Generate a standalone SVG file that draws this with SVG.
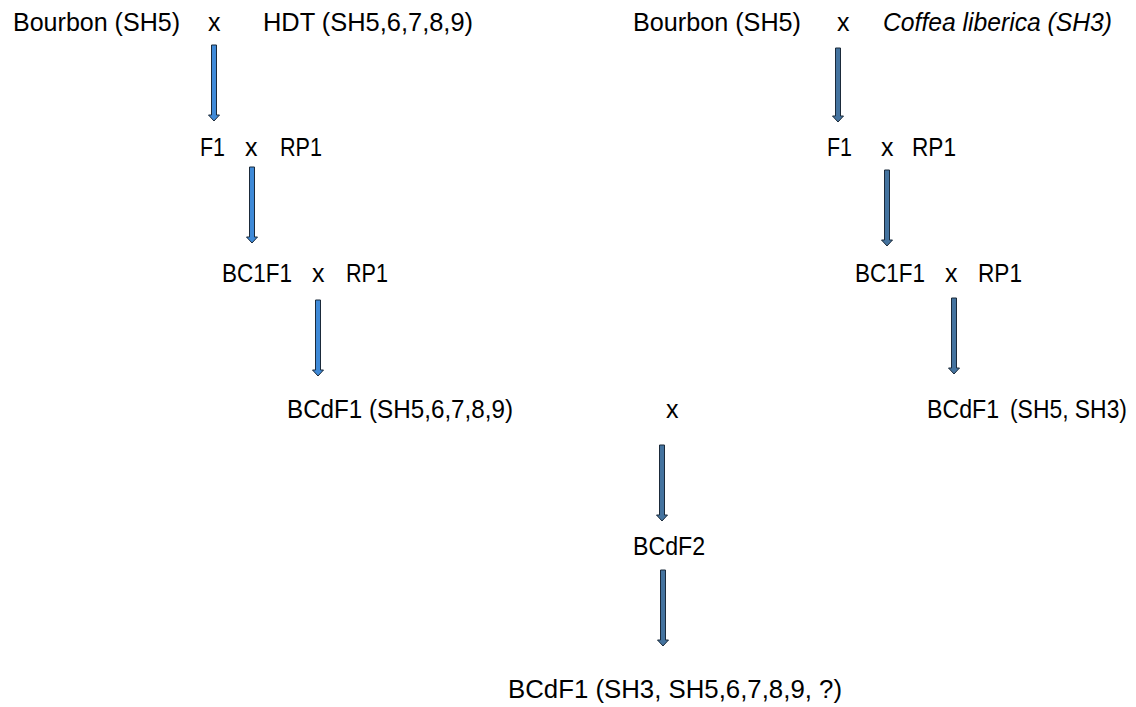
<svg xmlns="http://www.w3.org/2000/svg" width="1136" height="707" viewBox="0 0 1136 707">
<style>
text{font-family:"Liberation Sans",Arial,sans-serif;font-size:25px;fill:#000}
.it{font-style:italic}
.a1{fill:#3f8ad8;stroke:#1b2a3a;stroke-width:1}
.a2{fill:#44739f;stroke:#1b2a3a;stroke-width:1}
</style>
<rect width="1136" height="707" fill="#fff"/>
<g id="n-bourbon-l"><text x="13" y="31" textLength="167" lengthAdjust="spacingAndGlyphs">Bourbon (SH5)</text></g>
<g id="n-x1-l"><text x="208" y="31">x</text></g>
<g id="n-hdt"><text x="263" y="31" textLength="210" lengthAdjust="spacingAndGlyphs">HDT (SH5,6,7,8,9)</text></g>
<g id="n-bourbon-r"><text x="633" y="31" textLength="168" lengthAdjust="spacingAndGlyphs">Bourbon (SH5)</text></g>
<g id="n-x1-r"><text x="837" y="31">x</text></g>
<g id="n-liberica"><text class="it" x="883" y="31" textLength="229" lengthAdjust="spacingAndGlyphs">Coffea liberica (SH3)</text></g>
<g id="n-f1-l"><text x="200" y="156" textLength="25" lengthAdjust="spacingAndGlyphs">F1</text><text x="245" y="156">x</text><text x="280" y="156" textLength="42" lengthAdjust="spacingAndGlyphs">RP1</text></g>
<g id="n-f1-r"><text x="827" y="156" textLength="25" lengthAdjust="spacingAndGlyphs">F1</text><text x="881" y="156">x</text><text x="912" y="156" textLength="44" lengthAdjust="spacingAndGlyphs">RP1</text></g>
<g id="n-bc1f1-l"><text x="222" y="282" textLength="70" lengthAdjust="spacingAndGlyphs">BC1F1</text><text x="312" y="282">x</text><text x="346" y="282" textLength="42" lengthAdjust="spacingAndGlyphs">RP1</text></g>
<g id="n-bc1f1-r"><text x="855" y="282" textLength="70" lengthAdjust="spacingAndGlyphs">BC1F1</text><text x="945" y="282">x</text><text x="978" y="282" textLength="44" lengthAdjust="spacingAndGlyphs">RP1</text></g>
<g id="n-bcdf1-l"><text x="287" y="418" textLength="226" lengthAdjust="spacingAndGlyphs">BCdF1 (SH5,6,7,8,9)</text></g>
<g id="n-x4"><text x="666" y="418">x</text></g>
<g id="n-bcdf1-r"><text x="927" y="418" textLength="72" lengthAdjust="spacingAndGlyphs">BCdF1</text><text x="1010" y="418" font-size="24" textLength="117" lengthAdjust="spacingAndGlyphs">(SH5, SH3)</text></g>
<g id="n-bcdf2"><text x="633" y="555" textLength="72" lengthAdjust="spacingAndGlyphs">BCdF2</text></g>
<g id="n-final"><text x="508" y="698" textLength="334" lengthAdjust="spacingAndGlyphs">BCdF1 (SH3, SH5,6,7,8,9, ?)</text></g>
<g id="connectors">
<path class="a1" d="M211.5,45 h5 v70 h3 l-5.5,6 l-5.5,-6 h3 z"/>
<path class="a2" d="M835.5,48 h5 v68 h3 l-5.5,6 l-5.5,-6 h3 z"/>
<path class="a1" d="M249.5,167 h5 v70 h3 l-5.5,6 l-5.5,-6 h3 z"/>
<path class="a2" d="M884.5,170 h5 v70 h3 l-5.5,6 l-5.5,-6 h3 z"/>
<path class="a1" d="M315.5,300 h5 v70 h3 l-5.5,6 l-5.5,-6 h3 z"/>
<path class="a2" d="M951.5,298 h5 v70 h3 l-5.5,6 l-5.5,-6 h3 z"/>
<path class="a2" d="M659.5,445 h5 v70 h3 l-5.5,6 l-5.5,-6 h3 z"/>
<path class="a2" d="M660.5,570 h5 v70 h3 l-5.5,6 l-5.5,-6 h3 z"/>
</g>
</svg>
